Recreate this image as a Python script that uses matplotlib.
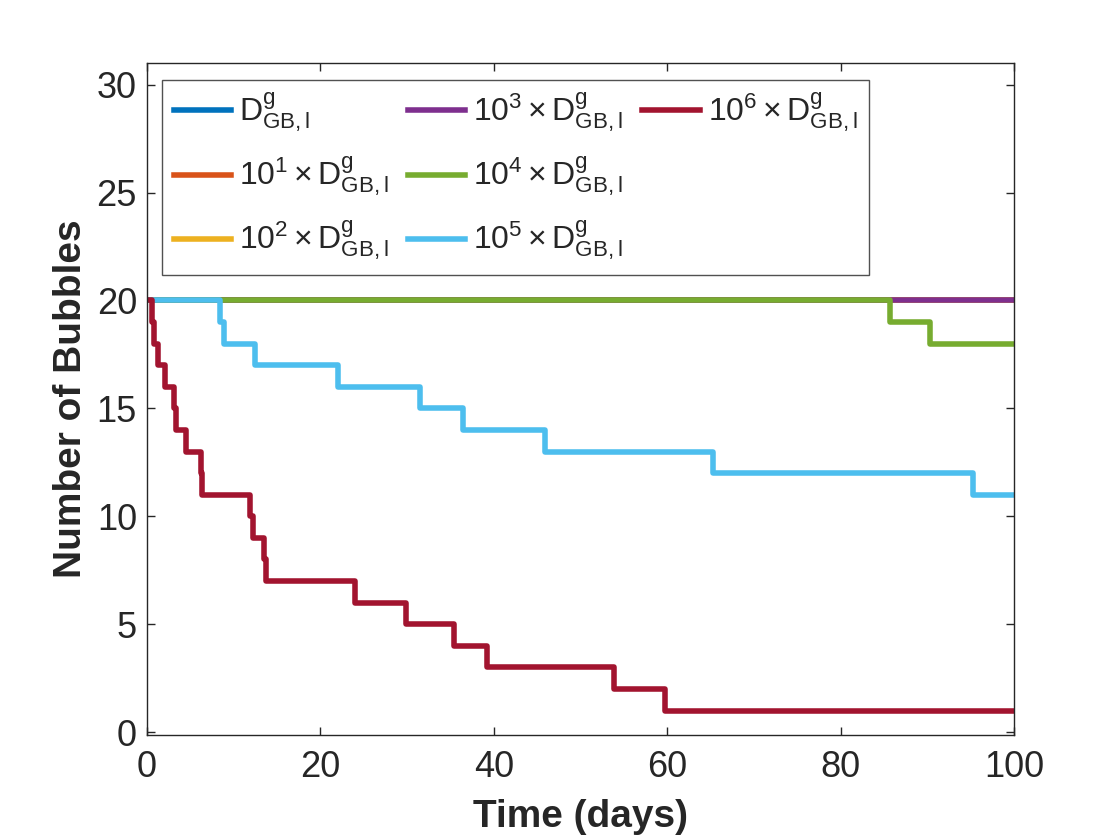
import matplotlib
matplotlib.use("Agg")
import matplotlib.pyplot as plt
from matplotlib.lines import Line2D

plt.rcParams['font.family'] = ['Liberation Sans', 'DejaVu Sans']
plt.rcParams['mathtext.fontset'] = 'custom'
plt.rcParams['mathtext.rm'] = 'Liberation Sans'
plt.rcParams['mathtext.it'] = 'Liberation Sans:italic'
plt.rcParams['mathtext.bf'] = 'Liberation Sans:bold'

# series: change times (days) and bubble counts
base_t = [0, 100]
base_v = [20, 20]

green_t = [0, 85.7, 90.3, 100]
green_v = [20, 19, 18, 18]

cyan_t = [0, 8.5, 8.9, 12.5, 22.0, 31.5, 36.4, 45.9, 65.3, 95.3, 100]
cyan_v = [20, 19, 18, 17, 16, 15, 14, 13, 12, 11, 11]

red_t = [0, 0.6, 0.8, 1.25, 2.1, 3.1, 3.4, 4.5, 6.2, 6.4, 11.9, 12.2,
         13.5, 13.8, 24.0, 29.9, 35.4, 39.25, 53.9, 59.75, 100]
red_v = [20, 19, 18, 17, 16, 15, 14, 13, 12, 11, 10, 9,
         8, 7, 6, 5, 4, 3, 2, 1, 1]

labels = [r'$\mathregular{D^g_{GB,l}}$',
          r'$\mathregular{10^1\times D^g_{GB,l}}$',
          r'$\mathregular{10^2\times D^g_{GB,l}}$',
          r'$\mathregular{10^3\times D^g_{GB,l}}$',
          r'$\mathregular{10^4\times D^g_{GB,l}}$',
          r'$\mathregular{10^5\times D^g_{GB,l}}$',
          r'$\mathregular{10^6\times D^g_{GB,l}}$']
colors = ['#0072BD', '#D95319', '#EDB120', '#7E2F8E', '#77AC30', '#4DBEEE', '#A2142F']

series = [(base_t, base_v), (base_t, base_v), (base_t, base_v), (base_t, base_v),
          (green_t, green_v), (cyan_t, cyan_v), (red_t, red_v)]

fig = plt.figure(figsize=(11.2, 8.4), dpi=100)
ax = fig.add_axes([0.131, 0.125, 0.7746, 0.80])

handles = []
for (t, v), c, lab in zip(series, colors, labels):
    h, = ax.step(t, v, where='post', color=c, lw=4, label=lab)
    handles.append(h)

ax.set_xlim(0, 100)
ax.set_ylim(-0.13, 31)
ax.set_xticks([0, 20, 40, 60, 80, 100])
ax.set_yticks([0, 5, 10, 15, 20, 25, 30])

dark = '#262626'
for s in ax.spines.values():
    s.set_color(dark)
    s.set_linewidth(1.0)
ax.tick_params(direction='in', length=6, width=1, top=True, right=True,
               labelsize=26, colors=dark)
ax.tick_params(axis='x', pad=11)
ax.tick_params(axis='y', pad=7)

ax.set_xlabel('Time (days)', fontsize=28, fontweight='bold', color=dark)
ax.set_ylabel('Number of Bubbles', fontsize=28, fontweight='bold', color=dark)
ax.xaxis.set_label_coords(0.5, -0.095)
ax.yaxis.set_label_coords(-0.066, 0.5)

# MATLAB fills legend columns 3/3/1, pad with blank entries
blank = Line2D([], [], color='none')
leg_h = handles[:6] + [handles[6], blank, blank]
leg_l = labels[:6] + [labels[6], '', '']
leg = ax.legend(leg_h, leg_l, ncol=3, loc='upper left', bbox_to_anchor=(0.018, 0.975),
                fontsize=23, frameon=True, fancybox=False, handlelength=1.8,
                handletextpad=0.25, columnspacing=0.6, labelspacing=0.62,
                borderpad=0.35, borderaxespad=0)
leg.get_frame().set_edgecolor(dark)
leg.get_frame().set_linewidth(1.0)
for txt in leg.get_texts():
    txt.set_color(dark)

fig.savefig('out.png', dpi=100)
